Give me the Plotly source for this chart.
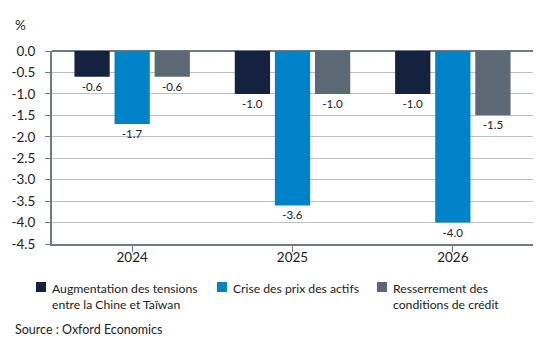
import plotly.graph_objects as go

years = ["2024", "2025", "2026"]
series_names = ["Augmentation des tensions<br>entre la Chine et Taïwan",
                "Crise des prix des actifs",
                "Resserrement des<br>conditions de crédit"]
tensions = [-0.6, -1.0, -1.0]
crise = [-1.7, -3.6, -4.0]
credit = [-0.6, -1.0, -1.5]
colors = ["#14213f", "#0082c8", "#5c6874"]
y_ticks = [0.0, -0.5, -1.0, -1.5, -2.0, -2.5, -3.0, -3.5, -4.0, -4.5]

FONT = "Lato"
W, H = 555, 354
L, R, T, B = 52, 22, 51, 110
PW, PH = W - L - R, H - T - B


def px(x):
    return (x - L) / PW


def py(y):
    return (H - B - y) / PH


fig = go.Figure()
for name, vals, col in zip(series_names, [tensions, crise, credit], colors):
    fig.add_trace(go.Bar(
        x=years, y=vals, name=name, marker_color=col, marker_line_width=0,
        text=[f"{v:.1f}" for v in vals], textposition="outside",
        textfont=dict(size=11.5, color="#222222", family=FONT),
        cliponaxis=False, showlegend=False,
    ))

fig.update_layout(
    width=W, height=H,
    margin=dict(l=L, r=R, t=T, b=B),
    paper_bgcolor="white", plot_bgcolor="white",
    barmode="group", bargap=0.25, bargroupgap=0.12,
    font=dict(family=FONT, color="#222222", size=13),
    showlegend=False,
)
fig.update_xaxes(
    showline=True, linecolor="#6f7a85", linewidth=2,
    ticks="outside", tickcolor="#6f7a85", ticklen=6, tickwidth=1,
    showgrid=False, tickfont=dict(size=13.5, family=FONT),
    ticklabelstandoff=-6,
)
fig.update_yaxes(
    range=[-4.5, 0], tickvals=y_ticks, ticktext=[f"{t:.1f}" for t in y_ticks],
    showline=True, linecolor="#6f7a85", linewidth=2,
    showgrid=True, gridcolor="#b9c0c7", gridwidth=1,
    zeroline=True, zerolinecolor="#6f7a85", zerolinewidth=2,
    ticks="outside", tickcolor="#6f7a85", ticklen=5,
    tickfont=dict(size=13.5, family=FONT),
    ticklabelstandoff=7,
)

# manual legend
leg_x = [36, 217, 377]
for name, col, lx in zip(series_names, colors, leg_x):
    fig.add_shape(type="rect", xref="paper", yref="paper",
                  x0=px(lx), x1=px(lx + 10), y0=py(292), y1=py(282),
                  fillcolor=col, line_width=0)
    fig.add_annotation(text=name, xref="paper", yref="paper",
                       x=px(lx + 14), y=py(279), xanchor="left", yanchor="top",
                       align="left", showarrow=False,
                       font=dict(size=12.2, family=FONT, color="#222222"))

fig.add_annotation(text="%", xref="paper", yref="paper", x=px(20), y=py(15),
                   xanchor="center", yanchor="top", showarrow=False,
                   font=dict(size=13.5, family=FONT, color="#222222"))
fig.add_annotation(text="Source : Oxford Economics", xref="paper", yref="paper",
                   x=px(13), y=py(329), xanchor="left", yanchor="middle",
                   showarrow=False, font=dict(size=12.5, family=FONT, color="#222222"))
fig.write_html("out.html")
